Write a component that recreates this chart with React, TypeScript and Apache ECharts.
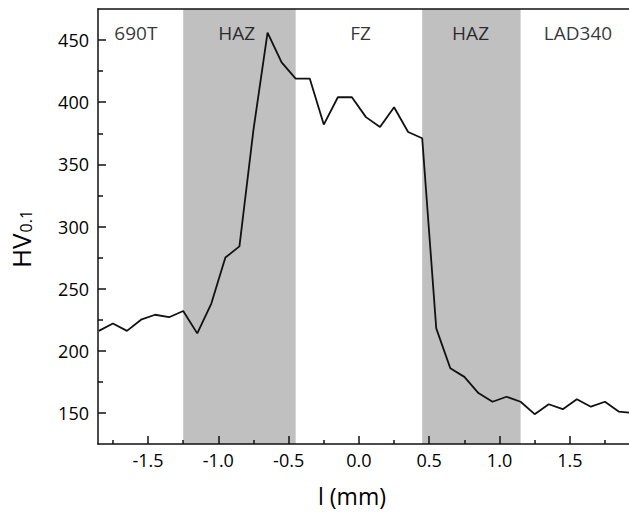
import React, { useEffect, useRef } from "react";
import * as echarts from "echarts";

const xPositions = [
  -1.85, -1.75, -1.65, -1.55, -1.45, -1.35, -1.25, -1.15, -1.05, -0.95,
  -0.85, -0.75, -0.65, -0.55, -0.45, -0.35, -0.25, -0.15, -0.05, 0.05,
  0.15, 0.25, 0.35, 0.45, 0.55, 0.65, 0.75, 0.85, 0.95, 1.05,
  1.15, 1.25, 1.35, 1.45, 1.55, 1.65, 1.75, 1.85, 1.95,
];
const hardness = [
  216, 222, 216, 225, 229, 227, 232, 214, 238, 275,
  284, 378, 456, 432, 419, 419, 382, 404, 404, 388,
  380, 396, 376, 371, 218, 186, 179, 166, 159, 163,
  159, 149, 157, 153, 161, 155, 159, 151, 150,
];
const hazBands = [
  [-1.25, -0.45],
  [0.45, 1.15],
];
const regionNames = ["690T", "HAZ", "FZ", "HAZ", "LAD340"];
const regionCenters = [-1.587, -0.869, 0.011, 0.794, 1.558];
const regionLabelY = 455.7;
const xTickLabels = [-1.5, -1.0, -0.5, 0.0, 0.5, 1.0, 1.5];
const xMinorTicks = [-1.75, -1.25, -0.75, -0.25, 0.25, 0.75, 1.25, 1.75];
const yTickLabels = [150, 200, 250, 300, 350, 400, 450];
const yMinorTicks = [175, 225, 275, 325, 375, 425];
const X_MIN = -1.856;
const X_MAX = 1.921;
const Y_MIN = 125;
const Y_MAX = 475;

const FONT = "'Open Sans', 'Noto Sans', sans-serif";
const INK = "#000000";

export default function App() {
  const ref = useRef<HTMLDivElement>(null);
  useEffect(() => {
    if (!ref.current) return;
    const chart = echarts.init(ref.current, undefined, { renderer: "svg" });
    const lineStyle = { color: "#111111", width: 1.5 };
    const baseX = {
      type: "value" as const,
      min: X_MIN,
      max: X_MAX,
      splitLine: { show: false },
      z: 10,
    };
    const baseY = {
      type: "value" as const,
      min: Y_MIN,
      max: Y_MAX,
      splitLine: { show: false },
      z: 10,
    };
    chart.setOption({
      animation: false,
      textStyle: { fontFamily: FONT },
      grid: { left: 98, top: 9, right: 0, bottom: 72 },
      xAxis: [
        {
          ...baseX,
          position: "bottom",
          axisLine: { show: true, onZero: false, lineStyle },
          axisTick: {
            show: true,
            inside: true,
            length: 8,
            lineStyle,
            customValues: xTickLabels,
          },
          axisLabel: {
            show: true,
            customValues: xTickLabels,
            margin: 7,
            fontSize: 18,
            color: INK,
            fontFamily: FONT,
            formatter: (v: number) => v.toFixed(1),
          },
        },
        {
          ...baseX,
          position: "bottom",
          axisLine: { show: false, onZero: false },
          axisTick: {
            show: true,
            inside: true,
            length: 4,
            lineStyle,
            customValues: xMinorTicks,
          },
          axisLabel: { show: false },
        },
        {
          ...baseX,
          position: "top",
          axisLine: { show: true, onZero: false, lineStyle },
          axisTick: { show: false },
          axisLabel: { show: false },
        },
      ],
      yAxis: [
        {
          ...baseY,
          position: "left",
          axisLine: { show: true, onZero: false, lineStyle },
          axisTick: {
            show: true,
            inside: true,
            length: 8,
            lineStyle,
            customValues: yTickLabels,
          },
          axisLabel: {
            show: true,
            customValues: yTickLabels,
            margin: 9,
            fontSize: 18,
            color: INK,
            fontFamily: FONT,
          },
        },
        {
          ...baseY,
          position: "left",
          axisLine: { show: false, onZero: false },
          axisTick: {
            show: true,
            inside: true,
            length: 5,
            lineStyle,
            customValues: yMinorTicks,
          },
          axisLabel: { show: false },
        },
      ],
      series: [
        {
          type: "line",
          data: xPositions.map((x, i) => [x, hardness[i]]),
          showSymbol: false,
          symbol: "none",
          clip: true,
          lineStyle: { color: "#111111", width: 1.8 },
          z: 3,
          markArea: {
            silent: true,
            itemStyle: { color: "#c0c0c0", opacity: 1 },
            data: hazBands.map((b) => [{ xAxis: b[0] }, { xAxis: b[1] }]),
          },
        },
        {
          type: "scatter",
          symbolSize: 0,
          silent: true,
          z: 4,
          data: regionNames.map((n, i) => ({
            name: n,
            value: [regionCenters[i], regionLabelY],
          })),
          label: {
            show: true,
            position: "inside",
            formatter: "{b}",
            fontSize: 19,
            color: INK,
            fontFamily: FONT,
          },
        },
      ],
      graphic: [
        {
          type: "text",
          x: 352,
          y: 496,
          style: {
            text: "l (mm)",
            fontSize: 23,
            fontFamily: FONT,
            fill: INK,
            align: "center",
            verticalAlign: "middle",
          },
        },
        {
          type: "text",
          x: 21,
          y: 239,
          rotation: Math.PI / 2,
          style: {
            text: "{a|HV}{b|0.1}",
            align: "center",
            verticalAlign: "middle",
            fill: INK,
            rich: {
              a: {
                fontSize: 26,
                lineHeight: 26,
                fontFamily: FONT,
                fill: INK,
                verticalAlign: "top",
              },
              b: {
                fontSize: 16,
                lineHeight: 16,
                fontFamily: FONT,
                fill: INK,
                verticalAlign: "bottom",
                padding: [15, 0, 0, 1],
              },
            },
          },
        },
      ],
    });
    return () => chart.dispose();
  }, []);
  return (
    <div
      ref={ref}
      style={{ position: "absolute", left: 0, top: 0, width: 629, height: 516 }}
    />
  );
}
